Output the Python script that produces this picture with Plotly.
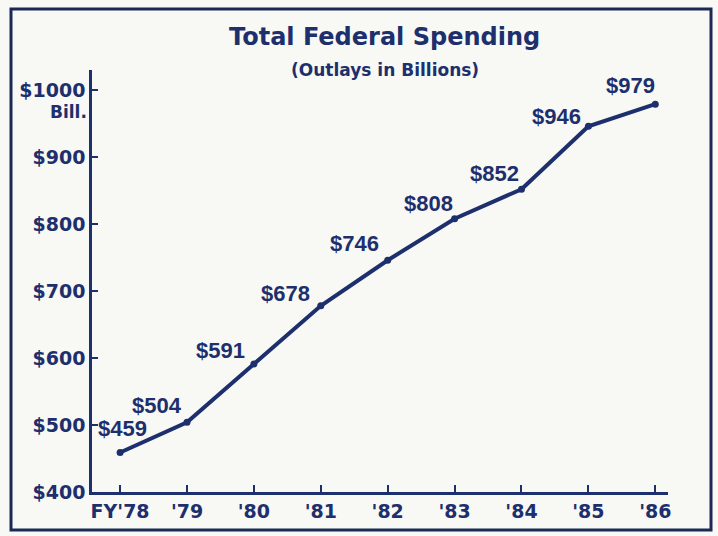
import plotly.graph_objects as go

years = ["FY'78", "'79", "'80", "'81", "'82", "'83", "'84", "'85", "'86"]
outlays = [459, 504, 591, 678, 746, 808, 852, 946, 979]
value_labels = ["$459", "$504", "$591", "$678", "$746", "$808", "$852", "$946", "$979"]
y_tick_vals = [400, 500, 600, 700, 800, 900, 1000]
y_tick_text = ["$400", "$500", "$600", "$700", "$800", "$900", "$1000"]

# label offsets (pixels) relative to each point
label_shift_x = [2, -30, -33, -35, -33, -26, -27, -32, -25]
label_shift_y = [24, 17, 14, 12, 17, 15, 16, 10, 19]

NAVY = "#1d2f6c"
FONT = "Liberation Sans, Arial, sans-serif"
WIDE = "DejaVu Sans, Verdana, sans-serif"
W, H = 718, 536
ML, MR, MT, MB = 92, 50, 70, 44
PW, PH = W - ML - MR, H - MT - MB

fig = go.Figure()
fig.add_trace(go.Scatter(
    x=list(range(len(years))), y=outlays, mode="lines+markers",
    line=dict(color=NAVY, width=4), marker=dict(color=NAVY, size=7),
    hoverinfo="skip", showlegend=False,
))

for i, (v, t) in enumerate(zip(outlays, value_labels)):
    fig.add_annotation(x=i, y=v, text="<b>%s</b>" % t, showarrow=False,
                       xshift=label_shift_x[i], yshift=label_shift_y[i],
                       font=dict(family=FONT, size=22, color=NAVY))

def px_x(p):
    return (p - ML) / PW

def px_y(p):
    return (H - MB - p) / PH

# "Bill." under $1000
fig.add_annotation(xref="paper", yref="y", x=px_x(89), y=1000, yshift=-22,
                   xanchor="right", yanchor="middle", text="<b>Bill.</b>",
                   showarrow=False,
                   font=dict(family=WIDE, size=17, color=NAVY))

# Titles
fig.add_annotation(xref="paper", yref="paper", x=px_x(384), y=px_y(37),
                   xanchor="center", yanchor="middle",
                   text="<b>Total Federal Spending</b>", showarrow=False,
                   font=dict(family=WIDE, size=24, color=NAVY))
fig.add_annotation(xref="paper", yref="paper", x=px_x(385), y=px_y(70),
                   xanchor="center", yanchor="middle",
                   text="<b>(Outlays in Billions)</b>", showarrow=False,
                   font=dict(family=WIDE, size=17, color=NAVY))

# frame
fig.add_shape(type="rect", xref="paper", yref="paper",
              x0=px_x(11), x1=px_x(711), y0=px_y(530), y1=px_y(9),
              line=dict(color="#1a2a55", width=3), layer="below")

fig.update_layout(
    width=W, height=H,
    margin=dict(l=ML, r=MR, t=MT, b=MB),
    paper_bgcolor="#f8f8f4", plot_bgcolor="#f8f8f4",
    xaxis=dict(range=[-0.42, 8.19], tickvals=list(range(len(years))),
               ticktext=["<b>%s</b>" % y for y in years],
               showgrid=False, zeroline=False, showline=True,
               linecolor=NAVY, linewidth=2.5, ticks="inside", ticklen=7,
               tickwidth=2, tickcolor=NAVY,
               tickfont=dict(family=WIDE, size=19, color=NAVY)),
    yaxis=dict(range=[400, 1030], tickvals=y_tick_vals,
               ticktext=["<b>%s</b>" % t for t in y_tick_text],
               showgrid=False, zeroline=False, showline=True,
               linecolor=NAVY, linewidth=2.5, ticks="inside", ticklen=6,
               tickwidth=2, tickcolor=NAVY,
               tickfont=dict(family=WIDE, size=19, color=NAVY)),
)

fig.write_html("out.html", config={"displayModeBar": False},
               post_script="document.body.style.margin='0';document.body.style.background='#f8f8f4';")
